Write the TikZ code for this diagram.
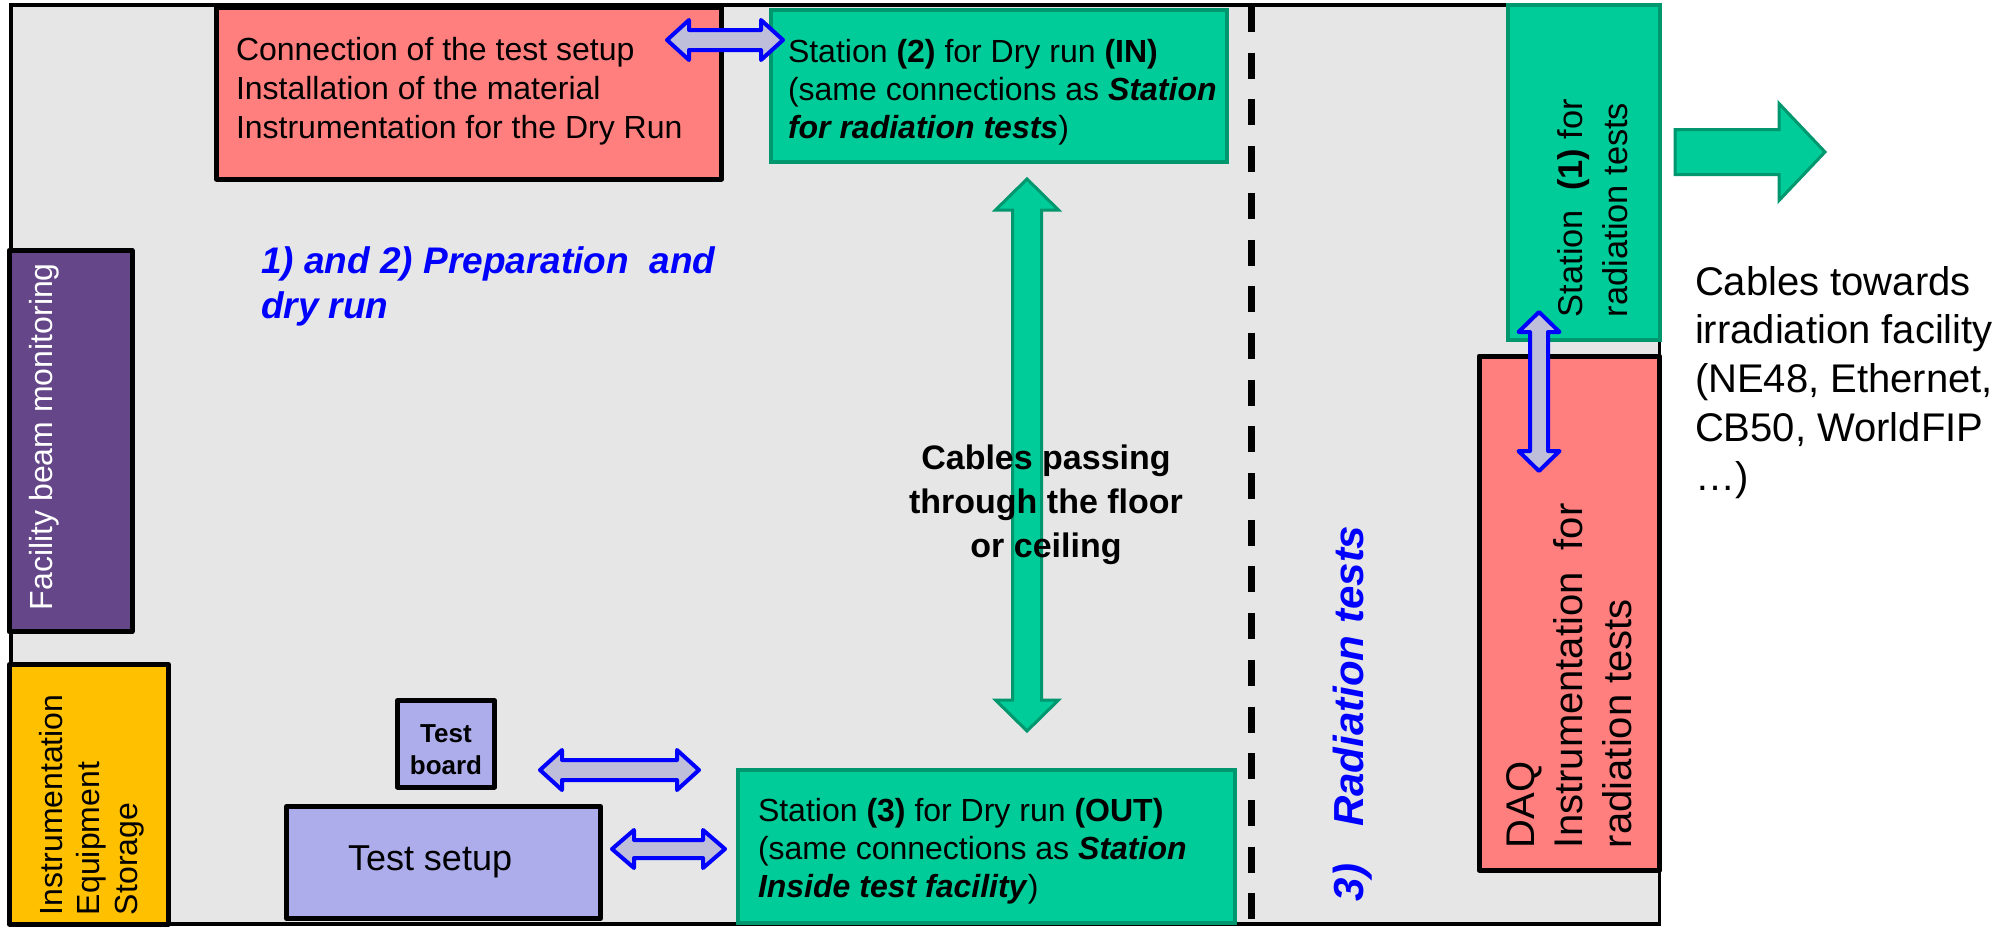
\documentclass[tikz,border=0pt]{standalone}
\usepackage{fontspec}
\setmainfont{Liberation Sans}
\usetikzlibrary{calc,fit}

\definecolor{floorgray}{RGB}{230,230,230}
\definecolor{salmon}{RGB}{255,127,127}
\definecolor{stgreen}{RGB}{0,204,153}
\definecolor{stborder}{RGB}{0,150,110}
\definecolor{beampurple}{RGB}{101,70,137}
\definecolor{storeyellow}{RGB}{255,192,0}
\definecolor{setuplav}{RGB}{173,173,235}
\definecolor{linkfill}{RGB}{190,190,218}
\definecolor{phaseblue}{RGB}{0,0,255}

\newcommand{\setfs}[2]{\fontsize{#1}{#2}\selectfont}

% fat double-headed arrow, horizontal: style, left tip, right tip, head length, half head, half shaft
\newcommand{\linkH}[6]{\draw[#1] (#2) -- ($(#2)+(#4,-#5)$) -- ($(#2)+(#4,-#6)$) -- ($(#3)+(-#4,-#6)$) -- ($(#3)+(-#4,-#5)$) -- (#3) -- ($(#3)+(-#4,#5)$) -- ($(#3)+(-#4,#6)$) -- ($(#2)+(#4,#6)$) -- ($(#2)+(#4,#5)$) -- cycle;}
% fat double-headed arrow, vertical: style, top tip, bottom tip, head length, half head, half shaft
\newcommand{\linkV}[6]{\draw[#1] (#2) -- ($(#2)+(#5,#4)$) -- ($(#2)+(#6,#4)$) -- ($(#3)+(#6,-#4)$) -- ($(#3)+(#5,-#4)$) -- (#3) -- ($(#3)+(-#5,-#4)$) -- ($(#3)+(-#6,-#4)$) -- ($(#2)+(-#6,#4)$) -- ($(#2)+(-#5,#4)$) -- cycle;}

\tikzset{
  area/.style={inner sep=0, outer sep=0},
  blackbox/.style={area, draw=black, line width=5, line join=round},
  greenbox/.style={area, fill=stgreen, draw=stborder, line width=4},
  txt/.style={inner sep=0, outer sep=0, anchor=base west},
  ctxt/.style={inner sep=0, outer sep=0, anchor=base},
  bluelink/.style={fill=linkfill, draw=phaseblue, line width=4, line join=round},
  greenlink/.style={fill=stgreen, draw=stborder, line width=3, line join=miter},
}

\begin{document}
\begin{tikzpicture}[x=1pt,y=-1pt]
\useasboundingbox (0,0) rectangle (2005,927);

% floor of the facility
\node[area, fill=floorgray, draw=black, line width=3.5, fit={(11,5) (1659.5,924)}] (floor) {};

% divider between preparation and radiation areas
\coordinate (divtop) at (1251,6);
\coordinate (divbot) at (1251,923);
\draw[line width=7, dash pattern=on 26 off 20.7] (divtop) -- (divbot);

% boxes
\node[blackbox, fill=salmon, fit={(216.5,7) (721.5,179)}] (prep) {};
\node[greenbox, fit={(771,9.5) (1226.5,162)}] (st2) {};
\node[greenbox, fit={(1507.5,5) (1659.5,339.5)}] (st1) {};
\node[blackbox, fill=salmon, fit={(1479,356) (1659.5,870)}] (daq) {};
\node[blackbox, fill=beampurple, fit={(9,250.5) (132,631.5)}] (beam) {};
\node[blackbox, fill=storeyellow, fit={(9.5,664.5) (168.5,924)}] (store) {};
\node[blackbox, fill=setuplav, fit={(397.5,700.5) (494.5,787)}] (board) {};
\node[blackbox, fill=setuplav, fit={(286.5,806.5) (600.5,918.5)}] (setup) {};
\node[greenbox, fit={(737.5,769.5) (1235,922.5)}] (st3) {};

% cable path through the floor / ceiling
\coordinate (cabtop) at (1027,179);
\coordinate (cabbot) at (1027,731);
\linkV{greenlink}{cabtop}{cabbot}{31}{31.5}{14.5}

% cables leaving towards the irradiation facility
\coordinate (outA) at (1675,152);
\coordinate (outB) at (1825,152);
\draw[greenlink] ($(outA)+(0,-22.5)$) -- ($(outB)+(-46,-22.5)$) -- ($(outB)+(-46,-48.5)$) -- (outB)
  -- ($(outB)+(-46,48.5)$) -- ($(outB)+(-46,22.5)$) -- ($(outA)+(0,22.5)$) -- cycle;

% texts
\node[txt] (preptxt) at (236,60) {\setfs{32}{39}\vtop{\hbox{Connection of the test setup}\hbox{Installation of the material}\hbox{Instrumentation for the Dry Run}}};

\node[txt] (st2txt) at (788,62) {\setfs{32}{38}\vtop{\hbox{Station \textbf{(2)} for Dry run \textbf{(IN)}}\hbox{(same connections as \textbf{\textit{Station}}}\hbox{\textbf{\textit{for radiation tests}})}}};

\node[txt] (st3txt) at (758,821) {\setfs{32}{38}\vtop{\hbox{Station \textbf{(3)} for Dry run \textbf{(OUT)}}\hbox{(same connections as \textbf{\textit{Station}}}\hbox{\textbf{\textit{Inside test facility}})}}};

\node[txt, rotate=90] (st1txt) at (1582,317) {\setfs{34.4}{45}\vtop{\hbox{Station\ \ \textbf{(1)} for}\hbox{radiation tests}}};

\node[txt, rotate=90, text=white] (beamtxt) at (52,610) {\setfs{32}{38}Facility beam monitoring};

\node[txt, rotate=90] (storetxt) at (62,915) {\setfs{32}{37.5}\vtop{\hbox{Instrumentation}\hbox{Equipment}\hbox{Storage}}};

\node[txt, rotate=90] (daqtxt) at (1534,848) {\setfs{40}{48.5}\vtop{\hbox{DAQ}\hbox{Instrumentation\ \ for}\hbox{radiation tests}}};

\node[txt, rotate=90, text=phaseblue] (radtxt) at (1363,901) {\setfs{42}{50}\bfseries\itshape 3)\hspace{37pt}Radiation tests};

\node[txt, text=phaseblue] (preptitle) at (261,273) {\setfs{37}{45}\bfseries\itshape\vtop{\hbox{1) and 2) Preparation\ \ and}\hbox{dry run}}};

\node[txt] (cabtxt) at (1695,295) {\setfs{40}{48.75}\vtop{\hbox{Cables towards}\hbox{irradiation facility}\hbox{(NE48, Ethernet,}\hbox{CB50, WorldFIP}\hbox{…)}}};

\node[ctxt] (boardtxt) at (446,742) {\setfs{26}{32}\bfseries\vtop{\halign{\hfil#\hfil\cr Test\cr board\cr}}};

\node[txt] (setuptxt) at (348,870) {\setfs{36}{43}Test setup};

\node[ctxt] (floortxt) at (1046,469) {\setfs{34}{44}\bfseries\vtop{\halign{\hfil#\hfil\cr Cables passing\cr through the floor\cr or ceiling\cr}}};

% links between the stations and the equipment
\coordinate (l1a) at (667,40);
\coordinate (l1b) at (783,40);
\linkH{bluelink}{l1a}{l1b}{22}{20}{10}

\coordinate (l2a) at (540,770);
\coordinate (l2b) at (699,770);
\linkH{bluelink}{l2a}{l2b}{22}{20}{10}

\coordinate (l3a) at (612,849);
\coordinate (l3b) at (725,849);
\linkH{bluelink}{l3a}{l3b}{22}{19}{9}

\coordinate (l4a) at (1539,312);
\coordinate (l4b) at (1539,471);
\linkV{bluelink}{l4a}{l4b}{20}{20.5}{9}
\end{tikzpicture}
\end{document}
